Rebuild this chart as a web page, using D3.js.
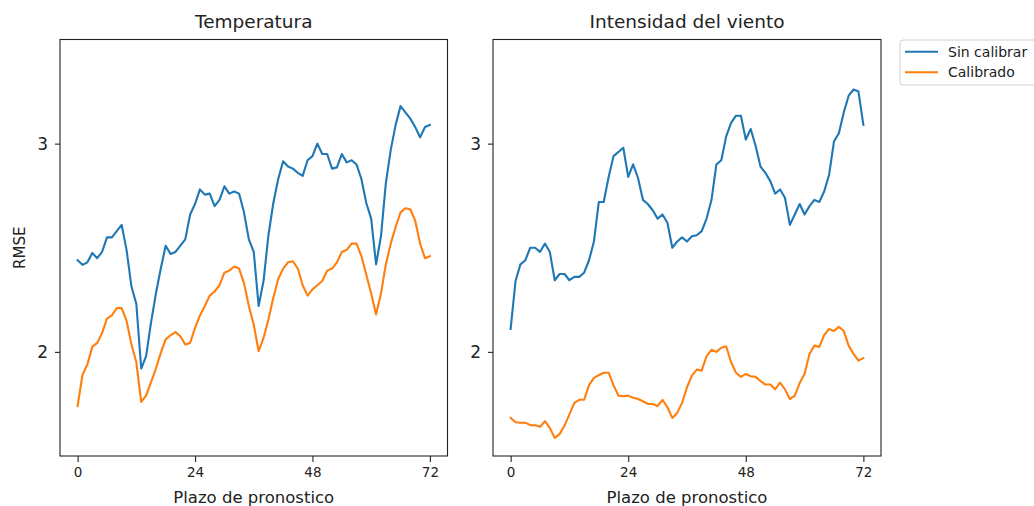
<!DOCTYPE html>
<html>
<head>
<meta charset="utf-8">
<script src="https://cdn.jsdelivr.net/npm/d3@7"></script>
<style>
  html, body { margin: 0; padding: 0; background: #fff; overflow: hidden; }
  svg { display: block; font-family: "DejaVu Sans", sans-serif; }
</style>
</head>
<body>
<svg id="chart" width="1034" height="506"></svg>
<script>
// ---- data ----
const hours = d3.range(0, 73);
const xTicks = [0, 24, 48, 72];
const yTicks = [2, 3];
const seriesNames = ["Sin calibrar", "Calibrado"];
const seriesColors = ["#1f77b4", "#ff7f0e"];
const panelTitles = ["Temperatura", "Intensidad del viento"];

const tempRaw = [2.44,2.418,2.43,2.475,2.45,2.48,2.55,2.55,2.58,2.61,2.49,2.315,2.23,1.92,1.98,2.14,2.28,2.40,2.51,2.47,2.48,2.51,2.54,2.66,2.71,2.78,2.755,2.76,2.70,2.73,2.795,2.76,2.77,2.76,2.67,2.54,2.48,2.22,2.34,2.56,2.715,2.83,2.915,2.89,2.88,2.86,2.845,2.92,2.94,3.00,2.95,2.95,2.88,2.886,2.95,2.91,2.92,2.90,2.83,2.715,2.64,2.42,2.555,2.81,2.97,3.09,3.18,3.15,3.12,3.08,3.03,3.08,3.09];
const tempCal = [1.74,1.89,1.94,2.024,2.043,2.09,2.16,2.175,2.21,2.21,2.15,2.035,1.95,1.76,1.79,1.855,1.92,1.995,2.06,2.08,2.095,2.075,2.035,2.043,2.115,2.175,2.22,2.27,2.29,2.32,2.38,2.39,2.41,2.40,2.33,2.22,2.13,2.003,2.067,2.155,2.26,2.35,2.40,2.43,2.435,2.40,2.32,2.27,2.30,2.32,2.34,2.39,2.40,2.43,2.48,2.49,2.52,2.52,2.46,2.37,2.28,2.18,2.28,2.42,2.52,2.60,2.67,2.69,2.685,2.63,2.52,2.45,2.46];
const windRaw = [2.11,2.34,2.42,2.44,2.50,2.50,2.48,2.52,2.48,2.344,2.374,2.374,2.344,2.36,2.36,2.38,2.44,2.53,2.72,2.72,2.84,2.94,2.96,2.98,2.84,2.90,2.835,2.73,2.71,2.68,2.64,2.66,2.62,2.50,2.53,2.55,2.53,2.555,2.56,2.58,2.64,2.73,2.90,2.92,3.035,3.10,3.134,3.134,3.02,3.07,2.99,2.89,2.86,2.82,2.76,2.78,2.74,2.61,2.66,2.71,2.66,2.70,2.73,2.72,2.77,2.85,3.01,3.05,3.15,3.23,3.26,3.25,3.09];
const windCal = [1.683,1.662,1.66,1.66,1.648,1.648,1.64,1.667,1.635,1.587,1.605,1.646,1.70,1.755,1.77,1.77,1.84,1.875,1.888,1.90,1.90,1.84,1.79,1.787,1.79,1.78,1.774,1.763,1.75,1.75,1.74,1.77,1.734,1.683,1.707,1.755,1.83,1.886,1.915,1.91,1.98,2.01,2.00,2.02,2.027,1.95,1.90,1.88,1.894,1.883,1.88,1.86,1.843,1.843,1.82,1.853,1.82,1.773,1.79,1.85,1.894,1.99,2.03,2.024,2.08,2.11,2.10,2.12,2.10,2.03,1.99,1.958,1.97];

const panels = [
  { title: panelTitles[0], series: [tempRaw, tempCal], left: 60, right: 447.5 },
  { title: panelTitles[1], series: [windRaw, windCal], left: 493, right: 881 }
];

const svg = d3.select("#chart");
const plotTop = 39.5, plotBottom = 456;
const textColor = "#222";

const y = d3.scaleLinear().domain([1.5, 3.5]).range([plotBottom, plotTop]);

panels.forEach((p, pi) => {
  const x = d3.scaleLinear().domain([-3.6, 75.6]).range([p.left, p.right]);
  const g = svg.append("g");

  // lines
  const line = d3.line().x((d, i) => x(hours[i])).y(d => y(d));
  p.series.forEach((vals, si) => {
    g.append("path").datum(vals)
      .attr("d", line)
      .attr("fill", "none")
      .attr("stroke", seriesColors[si])
      .attr("stroke-width", 2.1)
      .attr("stroke-linejoin", "round")
      .attr("stroke-linecap", "square");
  });

  // frame
  g.append("rect")
    .attr("x", p.left).attr("y", plotTop)
    .attr("width", p.right - p.left).attr("height", plotBottom - plotTop)
    .attr("fill", "none").attr("stroke", "#222").attr("stroke-width", 1.1);

  // x axis
  const xa = g.append("g").attr("transform", `translate(0,${plotBottom})`)
    .call(d3.axisBottom(x).tickValues(xTicks).tickSize(6).tickPadding(5).tickFormat(d3.format("d")));
  xa.select(".domain").remove();
  xa.selectAll("line").attr("stroke", "#222").attr("stroke-width", 1.1);
  xa.selectAll("text").attr("fill", textColor).attr("font-size", "13.5px")
    .attr("font-family", "DejaVu Sans");

  // y axis
  const ya = g.append("g").attr("transform", `translate(${p.left},0)`)
    .call(d3.axisLeft(y).tickValues(yTicks).tickSize(5).tickPadding(7).tickFormat(d3.format("d")));
  ya.select(".domain").remove();
  ya.selectAll("line").attr("stroke", "#222").attr("stroke-width", 1.1);
  ya.selectAll("text").attr("fill", textColor).attr("font-size", "17px")
    .attr("font-family", "DejaVu Sans");

  // title
  g.append("text")
    .attr("x", (p.left + p.right) / 2).attr("y", 28)
    .attr("text-anchor", "middle").attr("fill", textColor)
    .attr("font-size", "18.5px").text(p.title);

  // x label
  g.append("text")
    .attr("x", (p.left + p.right) / 2).attr("y", 502.5)
    .attr("text-anchor", "middle").attr("fill", textColor)
    .attr("font-size", "16.5px").text("Plazo de pronostico");
});

// y label
svg.append("text")
  .attr("transform", `translate(24.5,${(plotTop + plotBottom) / 2}) rotate(-90)`)
  .attr("text-anchor", "middle").attr("fill", textColor)
  .attr("font-size", "15px").text("RMSE");

// legend
const lg = svg.append("g");
lg.append("rect")
  .attr("x", 900).attr("y", 40).attr("width", 145).attr("height", 45)
  .attr("rx", 3).attr("fill", "#fff").attr("fill-opacity", 0.8)
  .attr("stroke", "#d0d0d0").attr("stroke-width", 1);
seriesNames.forEach((name, i) => {
  const yy = 51.7 + i * 20.6;
  lg.append("line")
    .attr("x1", 905).attr("x2", 938).attr("y1", yy).attr("y2", yy)
    .attr("stroke", seriesColors[i]).attr("stroke-width", 2.1);
  lg.append("text")
    .attr("x", 948).attr("y", yy + 5)
    .attr("fill", textColor).attr("font-size", "14px").text(name);
});
</script>
</body>
</html>
